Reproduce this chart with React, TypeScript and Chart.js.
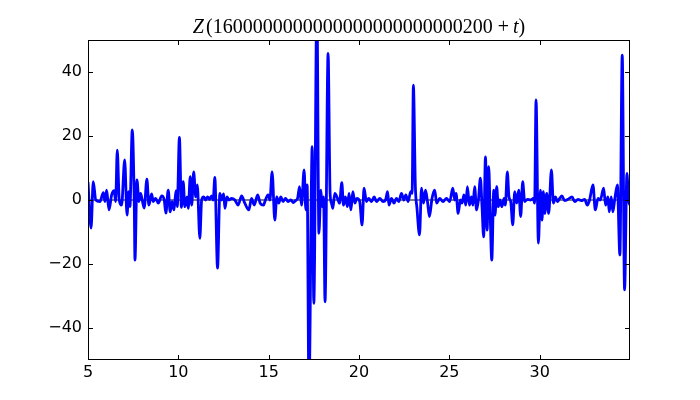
import React, { useEffect, useRef } from "react";
import { Chart, registerables } from "chart.js";

Chart.register(...registerables);

// t values (x)
const T_VALUES = [
  5.00, 5.17, 5.29, 5.43, 5.66, 5.85, 5.94, 6.03, 6.16, 6.31,
  6.45, 6.53, 6.62, 6.73, 6.86, 7.03, 7.16, 7.25, 7.32, 7.45,
  7.56, 7.60, 7.71, 7.82, 7.91, 8.00, 8.11, 8.26, 8.37, 8.52,
  8.61, 8.74, 8.89, 9.08, 9.22, 9.31, 9.44, 9.55, 9.65, 9.76,
  9.87, 9.94, 10.06, 10.17, 10.27, 10.36, 10.48, 10.55, 10.66, 10.74,
  10.85, 10.96, 11.05, 11.19, 11.29, 11.40, 11.51, 11.62, 11.73, 11.84,
  11.93, 12.02, 12.17, 12.30, 12.39, 12.51, 12.58, 12.69, 12.80, 12.95,
  13.13, 13.31, 13.50, 13.68, 13.90, 14.05, 14.20, 14.39, 14.53, 14.72,
  14.79, 14.97, 15.07, 15.19, 15.34, 15.45, 15.56, 15.67, 15.80, 15.93,
  16.08, 16.23, 16.36, 16.49, 16.60, 16.71, 16.82, 16.96, 17.06, 17.13,
  17.23, 17.41, 17.50, 17.67, 17.78, 17.89, 17.96, 18.04, 18.12, 18.29,
  18.40, 18.48, 18.55, 18.66, 18.81, 18.92, 19.05, 19.14, 19.25, 19.36,
  19.45, 19.55, 19.66, 19.77, 19.88, 20.04, 20.17, 20.28, 20.41, 20.54,
  20.69, 20.84, 20.97, 21.15, 21.33, 21.47, 21.58, 21.66, 21.80, 21.94,
  22.07, 22.20, 22.35, 22.48, 22.59, 22.72, 22.86, 22.94, 23.01, 23.12,
  23.21, 23.35, 23.46, 23.57, 23.68, 23.79, 23.90, 24.04, 24.19, 24.30,
  24.47, 24.65, 24.84, 25.02, 25.19, 25.30, 25.37, 25.49, 25.61, 25.70,
  25.81, 25.91, 26.00, 26.11, 26.22, 26.31, 26.40, 26.51, 26.61, 26.72,
  26.81, 26.90, 27.00, 27.09, 27.18, 27.25, 27.35, 27.46, 27.53, 27.62,
  27.71, 27.80, 27.91, 28.03, 28.10, 28.21, 28.30, 28.40, 28.51, 28.62,
  28.73, 28.84, 28.95, 29.06, 29.17, 29.32, 29.50, 29.65, 29.72, 29.80,
  29.93, 30.04, 30.13, 30.20, 30.28, 30.39, 30.50, 30.65, 30.76, 30.87,
  30.98, 31.11, 31.23, 31.38, 31.56, 31.79, 31.94, 32.12, 32.31, 32.49,
  32.64, 32.77, 32.95, 33.08, 33.23, 33.36, 33.54, 33.65, 33.78, 33.85,
  33.96, 34.05, 34.15, 34.30, 34.44, 34.57, 34.70, 34.83, 34.92, 35.00,
];

// Z(t) values (y)
const Z_VALUES = [
  5.6, -8.8, 5.7, 0, -0.5, 2.3, -0.5, 3.1, -3.1, 1.6,
  2.9, -0.5, 15.6, 0, -1.6, 12.5, -4.7, 2.6, -2.1, 21.9,
  -0.9, -18.8, 6.3, -0.5, 2.1, 0, -2.5, 6.5, -1.6, 1.9,
  -0.5, 0.5, -1.0, 1.3, 0, -4.1, 3.1, -3.7, -0.5, -3.1,
  2.9, -2.1, 19.6, -2.3, 5.7, -2.1, 1.0, -2.6, 7.3, -1.6,
  8.8, 1.0, 4.7, -12.0, 0, 1.0, 0, 1.0, 0.2, 1.3,
  0, 7.1, -21.3, 2.1, 0, 1.9, -2.6, 1.0, 0, 0.5,
  0, -1.6, 1.3, -1.0, -3.1, 0.5, -1.6, 1.6, -1.0, -1.6,
  -0.5, 1.6, 0, 8.8, -6.3, 1.0, -1.0, 1.0, -0.5, 0.5,
  -0.5, 0, -0.8, -0.2, 0.5, 4.2, -1.6, 9.4, -3.1, 4.7,
  -60, 16.7, -32.3, 62, -10.4, 3.1, -2.1, 1.0, -31.8, 45.8,
  2.1, -1.0, -2.6, 2.1, 0.5, -1.0, 5.4, -1.6, 1.0, -2.1,
  2.1, -3.1, 2.6, -1.0, 0.5, -0.5, -7.8, 3.7, -0.5, 0.5,
  -0.5, 1.0, -0.5, 0.5, -0.5, 0, 2.6, -1.6, 0.5, -1.0,
  0.5, -0.5, 2.1, 0, 1.6, -0.5, 2.6, 2.1, 35.9, 4.2,
  -2.6, -10.9, 3.7, -1.0, 3.1, -0.5, -5.2, 0.5, 3.1, -1.0,
  0.5, -0.5, 0.5, -0.5, 3.7, 0, 2.1, -4.2, 0, -1.0,
  1.6, -1.6, 4.2, -1.6, 1.0, -1.6, 4.2, -3.1, 0, 6.8,
  -2.1, -11.5, 13.5, -9.4, 10.4, -2.1, -18.8, 3.1, -4.7, 4.2,
  -2.1, 0, -2.1, 0.5, -1.6, 8.8, 1.0, -0.5, -7.8, 2.6,
  -1.0, 3.1, -5.2, 5.7, -0.5, 0.2, 0, 0.5, -1.0, 31.3,
  -13.5, 3.1, -6.3, 2.6, -4.2, 2.1, -4.2, 9.4, -1.0, 1.0,
  -0.5, 0.5, 1.3, -0.2, 0.2, 1.0, -0.5, 0.2, -0.2, 0.2,
  -1.6, 0.2, 4.7, -3.1, 0.5, 0, 3.7, -1.6, 1.0, -3.7,
  1.0, -3.7, 0, 4.7, -17.2, 45.3, -28.1, 8.3, 0, -1.6,
];

const X_TICKS = [5, 10, 15, 20, 25, 30];
const Y_TICKS = [-40, -20, 0, 20, 40];
const X_MIN = 5;
const X_MAX = 35;
const Y_MIN = -50;
const Y_MAX = 50;
const ZERO_LEVEL = 0;

// Title: Z(1600…0200 + t)
const TITLE_FUNC = "Z";
const TITLE_NUMBER = "1600000000000000000000000200";
const TITLE_VAR = "t";

const TICK_FONT = { family: "'DejaVu Sans', sans-serif", size: 16 };
const TICK_LEN = 5;

const fmt = (v: number) => (v < 0 ? "\u2212" + String(-v) : String(v));

const framePlugin = {
  id: "frameTicks",
  afterDatasetsDraw(chart: any) {
    const { ctx, chartArea, scales } = chart;
    const { left, right, top, bottom } = chartArea;
    const xs = scales.x;
    const ys = scales.y;
    ctx.save();
    ctx.strokeStyle = "#000";
    ctx.lineWidth = 1;
    ctx.beginPath();
    X_TICKS.forEach((v) => {
      const px = Math.round(xs.getPixelForValue(v)) + 0.5;
      ctx.moveTo(px, bottom);
      ctx.lineTo(px, bottom - TICK_LEN);
      ctx.moveTo(px, top);
      ctx.lineTo(px, top + TICK_LEN);
    });
    Y_TICKS.forEach((v) => {
      const py = Math.round(ys.getPixelForValue(v)) + 0.5;
      ctx.moveTo(left, py);
      ctx.lineTo(left + TICK_LEN, py);
      ctx.moveTo(right, py);
      ctx.lineTo(right - TICK_LEN, py);
    });
    ctx.stroke();
    ctx.strokeRect(
      Math.round(left) + 0.5,
      Math.round(top) + 0.5,
      Math.round(right - left) - 1,
      Math.round(bottom - top) - 1
    );
    ctx.restore();
  },
};

const titlePlugin = {
  id: "mathTitle",
  afterDraw(chart: any) {
    const { ctx, chartArea } = chart;
    const size = 20;
    const upright = `${size}px 'Liberation Serif', 'DejaVu Serif', serif`;
    const italic = `italic ${size}px 'Liberation Serif', 'DejaVu Serif', serif`;
    const parts: { text: string; font: string; gap?: number }[] = [
      { text: TITLE_FUNC, font: italic },
      { text: "", font: upright, gap: 2 },
      { text: "(" + TITLE_NUMBER, font: upright },
      { text: "", font: upright, gap: 5 },
      { text: "+", font: upright },
      { text: "", font: upright, gap: 4 },
      { text: TITLE_VAR, font: italic },
      { text: ")", font: upright },
    ];
    ctx.save();
    let total = 0;
    const widths = parts.map((p) => {
      ctx.font = p.font;
      const w = p.gap ?? ctx.measureText(p.text).width;
      total += w;
      return w;
    });
    let x = (chartArea.left + chartArea.right) / 2 - total / 2;
    ctx.fillStyle = "#000";
    ctx.textBaseline = "alphabetic";
    ctx.textAlign = "left";
    parts.forEach((p, i) => {
      if (p.text) {
        ctx.font = p.font;
        ctx.fillText(p.text, x, 33);
      }
      x += widths[i];
    });
    ctx.restore();
  },
};

export default function App() {
  const ref = useRef<HTMLCanvasElement | null>(null);

  useEffect(() => {
    document.body.style.margin = "0";
    const canvas = ref.current;
    if (!canvas) return;
    const points = T_VALUES.map((t, i) => ({ x: t, y: Z_VALUES[i] }));
    const chart = new Chart(canvas, {
      type: "line",
      data: {
        datasets: [
          {
            data: points,
            borderColor: "#0000ff",
            borderWidth: 2.8,
            pointRadius: 0,
            fill: false,
            cubicInterpolationMode: "monotone",
            clip: 0,
            order: 0,
          },
          {
            data: [
              { x: X_MIN, y: ZERO_LEVEL },
              { x: X_MAX, y: ZERO_LEVEL },
            ],
            borderColor: "#000000",
            borderWidth: 1,
            pointRadius: 0,
            fill: false,
            clip: 0,
            order: 1,
          },
        ],
      },
      options: {
        animation: false,
        responsive: false,
        devicePixelRatio: 1,
        layout: { padding: { left: 0, right: 70, top: 40, bottom: 0 } },
        plugins: {
          legend: { display: false },
          title: { display: false },
          tooltip: { enabled: false },
        },
        scales: {
          x: {
            type: "linear",
            min: X_MIN,
            max: X_MAX,
            grid: { display: false, drawTicks: false },
            border: { display: false },
            ticks: {
              color: "#000",
              font: TICK_FONT,
              padding: 3,
              maxRotation: 0,
              autoSkip: false,
              callback: (v: any) => fmt(Number(v)),
            },
            afterBuildTicks: (s: any) => {
              s.ticks = X_TICKS.map((v) => ({ value: v }));
            },
            afterFit: (s: any) => {
              s.height = 40;
            },
          },
          y: {
            type: "linear",
            min: Y_MIN,
            max: Y_MAX,
            grid: { display: false, drawTicks: false },
            border: { display: false },
            ticks: {
              color: "#000",
              font: TICK_FONT,
              padding: 6,
              autoSkip: false,
              callback: (v: any) => fmt(Number(v)),
            },
            afterBuildTicks: (s: any) => {
              s.ticks = Y_TICKS.map((v) => ({ value: v }));
            },
            afterFit: (s: any) => {
              s.width = 88;
            },
          },
        },
      },
      plugins: [framePlugin, titlePlugin],
    });
    return () => chart.destroy();
  }, []);

  return (
    <div style={{ position: "fixed", left: 0, top: 0, width: 700, height: 400, background: "#fff" }}>
      <canvas ref={ref} width={700} height={400} style={{ display: "block" }} />
    </div>
  );
}
